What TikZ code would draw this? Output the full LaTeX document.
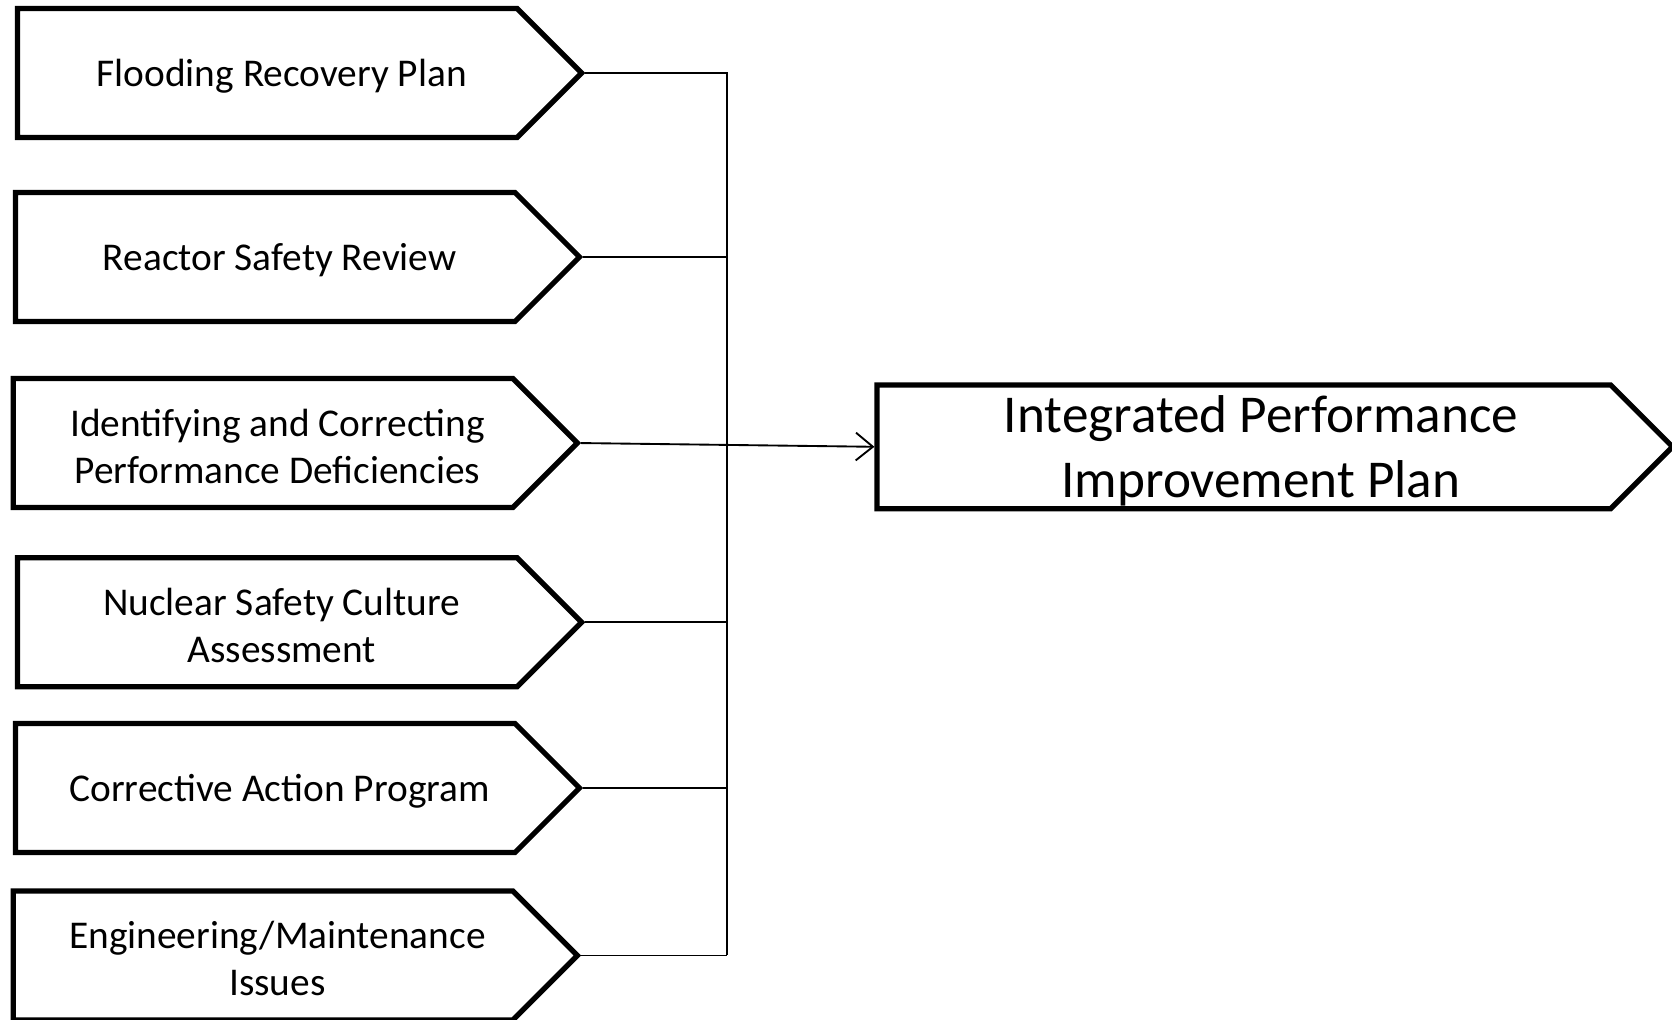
\documentclass[tikz,border=0pt]{standalone}
\usepackage{fontspec}
\setmainfont{Carlito}
\usetikzlibrary{arrows.meta, shapes.symbols, positioning}

\begin{document}
\begin{tikzpicture}[>={Straight Barb[length=1.6mm, width=2.6mm]},
  boxtext/.style={font=\fontsize{10.5}{12.5}\selectfont, align=center, inner sep=0pt, xshift=1.35mm, yshift=-0.3mm},
  bigtext/.style={font=\fontsize{14.2}{17.3}\selectfont, align=center, inner sep=0pt, xshift=1.6mm, yshift=-0.4mm},
  srcbox/.style={draw, line width=1.4pt, signal, signal to=east, signal pointer angle=90, minimum width=5.29cm, minimum height=1.21cm, inner sep=0pt},
  link/.style={line width=0.5pt}]
\useasboundingbox (0,0) rectangle (15.68,-9.56);

% Programas de entrada
\node (flood) at (0.14,-0.685) [srcbox, anchor=west, label={[boxtext]center:Flooding Recovery Plan}] {};
\node (reactor) at (0.12,-2.41) [srcbox, anchor=west, label={[boxtext]center:Reactor Safety Review}] {};
\node (deficit) at (0.10,-4.155) [srcbox, anchor=west, label={[boxtext]center:{Identifying and Correcting\\Performance Deficiencies}}] {};
\node (culture) at (0.14,-5.835) [srcbox, anchor=west, label={[boxtext]center:{Nuclear Safety Culture\\Assessment}}] {};
\node (cap) at (0.12,-7.39) [srcbox, anchor=west, label={[boxtext]center:Corrective Action Program}] {};
\node (engmaint) at (0.10,-8.96) [srcbox, anchor=west, label={[boxtext]center:{Engineering/Maintenance\\Issues}}] {};

% Plan integrado
\node (ipip) at (8.20,-4.19) [srcbox, anchor=west, minimum width=7.46cm, minimum height=1.16cm, label={[bigtext]center:{Integrated Performance\\Improvement Plan}}] {};

% Barra colectora
\coordinate (bus) at (6.82,0);
\draw[link] (flood.east) -- (flood.east -| bus) -- (engmaint.east -| bus);
\draw[link] (reactor.east) -- (reactor.east -| bus);
\draw[link] (culture.east) -- (culture.east -| bus);
\draw[link] (cap.east) -- (cap.east -| bus);
\draw[link] (engmaint.east) -- (engmaint.east -| bus);

% Flecha al plan
\draw[link, ->] (deficit.east) -- (ipip.west);
\end{tikzpicture}
\end{document}
